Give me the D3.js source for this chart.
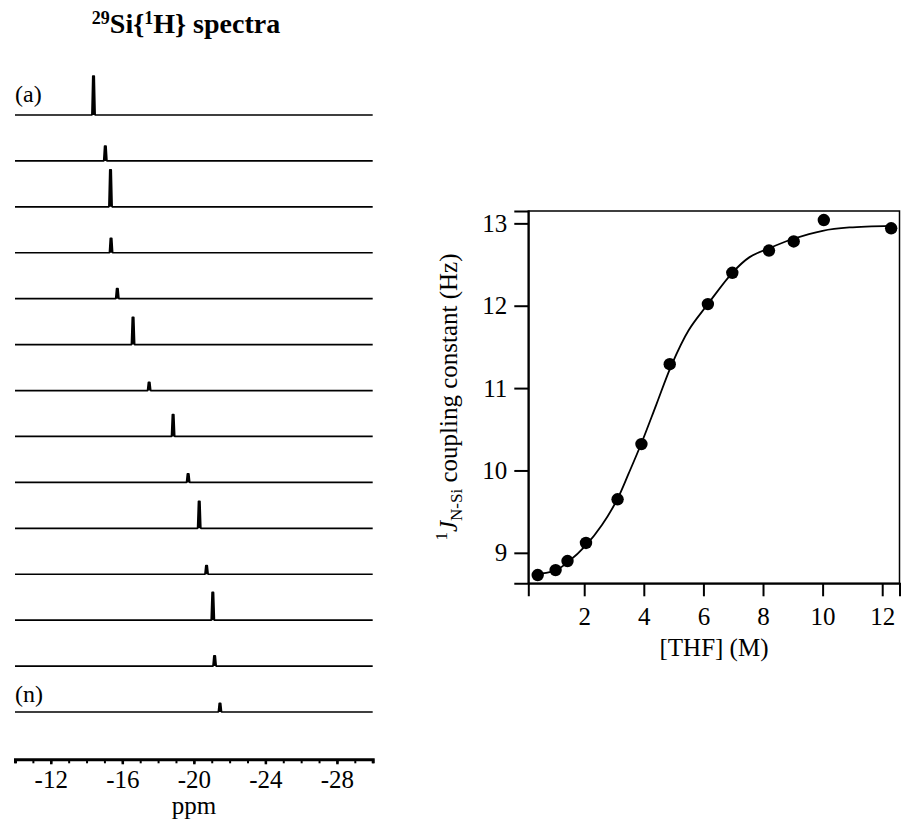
<!DOCTYPE html>
<html>
<head>
<meta charset="utf-8">
<script src="https://d3js.org/d3.v7.min.js"></script>
<style>
  body { margin: 0; background: #fff; }
  text { font-family: "Liberation Serif", "Times New Roman", serif; fill: #000; }
</style>
</head>
<body>
<div id="chart"></div>
<script>
// ---- data: 29Si{1H} spectra (a)..(n) ----
var traceIds = ["a","b","c","d","e","f","g","h","i","j","k","l","m","n"];
var peakShift = [-14.39, -15.05, -15.34, -15.37, -15.72, -16.60, -17.50,
                 -18.84, -19.68, -20.30, -20.71, -21.06, -21.16, -21.46];
var peakIntensity = [1.00, 0.38, 0.95, 0.37, 0.26, 0.70, 0.21,
                     0.56, 0.22, 0.69, 0.22, 0.71, 0.26, 0.22];
var ppmMinorTicks = d3.range(-10, -30.5, -1);
var ppmMajorTicks = [-12, -16, -20, -24, -28];

// ---- data: coupling constant vs [THF] ----
var thf  = [0.44, 1.04, 1.44, 2.06, 3.12, 3.92, 4.87, 6.15, 6.97, 8.20, 9.03, 10.04, 12.30];
var jNSi = [8.73, 8.79, 8.90, 9.12, 9.65, 10.32, 11.29, 12.02, 12.40, 12.67, 12.78, 13.04, 12.94];
// fitted curve
var fitThf = [0.30, 1.00, 1.46, 2.08, 2.60, 3.11, 3.50, 3.92, 4.42, 4.93, 5.50, 6.15, 6.97, 7.55, 8.22, 9.00, 10.00, 10.90, 12.30];
var fitJ   = [8.74, 8.78, 8.89, 9.10, 9.34, 9.65, 9.97, 10.33, 10.80, 11.28, 11.70, 12.02, 12.40, 12.59, 12.70, 12.81, 12.91, 12.95, 12.97];
var thfTicks = [2, 4, 6, 8, 10, 12];
var jTicks = [9, 10, 11, 12, 13];

var W = 901, H = 822;
var svg = d3.select("#chart").append("svg")
    .attr("width", W)
    .attr("height", H);

// ================= left panel =================
var xPpm = d3.scaleLinear().domain([-10, -30]).range([15, 372.7]);
var yTrace = d3.scalePoint().domain(traceIds).range([115, 712]);
var hPeak = d3.scaleLinear().domain([0, 1]).range([0, 39]);
var halfW = 0.09;

svg.append("text")
    .attr("x", 186).attr("y", 33)
    .attr("text-anchor", "middle")
    .attr("font-size", 28).attr("font-weight", "bold")
    .call(function(t) {
      t.append("tspan").attr("font-size", 18).attr("dy", -9).text("29");
      t.append("tspan").attr("dy", 9).text("Si{");
      t.append("tspan").attr("font-size", 18).attr("dy", -9).text("1");
      t.append("tspan").attr("dy", 9).text("H} spectra");
    });

var line = d3.line()
    .x(function(d) { return xPpm(d[0]); })
    .y(function(d) { return d[1]; });

var traces = svg.append("g").attr("id", "traces");
traceIds.forEach(function(id, i) {
  var y0 = yTrace(id), p = peakShift[i], h = hPeak(peakIntensity[i]);
  var pts = [[-10, y0], [p + halfW, y0], [p + halfW * 0.45, y0 - h],
             [p - halfW * 0.45, y0 - h], [p - halfW, y0], [-30, y0]];
  traces.append("path")
      .attr("d", line(pts))
      .attr("fill", "#000")
      .attr("stroke", "#000")
      .attr("stroke-width", 1.7)
      .attr("stroke-linejoin", "round");
});

svg.append("text").attr("x", 15).attr("y", yTrace("a") - 13)
    .attr("font-size", 24).text("(a)");
svg.append("text").attr("x", 15).attr("y", yTrace("n") - 10)
    .attr("font-size", 24).text("(n)");

var ppmAxisY = 759.3;
svg.append("g")
    .attr("transform", "translate(0," + ppmAxisY + ")")
    .call(d3.axisBottom(xPpm).tickValues(ppmMinorTicks).tickSize(4).tickFormat(""))
    .call(function(g) {
      g.select(".domain").attr("stroke-width", 3);
      g.selectAll(".tick line").attr("stroke-width", 2);
    });
svg.append("g")
    .attr("transform", "translate(0," + ppmAxisY + ")")
    .call(d3.axisBottom(xPpm).tickValues(ppmMajorTicks).tickSize(5).tickPadding(6)
      .tickFormat(function(d) { return String(d); }))
    .call(function(g) {
      g.attr("font-family", null);
      g.select(".domain").remove();
      g.selectAll(".tick line").attr("stroke-width", 2.5);
      g.selectAll("text").attr("font-size", 25);
    });
svg.append("text").attr("x", 194).attr("y", 814)
    .attr("text-anchor", "middle").attr("font-size", 25).text("ppm");

// ================= right panel =================
var x = d3.scaleLinear().domain([0.124, 12.58]).range([528.3, 899.5]);
var y = d3.scaleLinear().domain([8.63, 13.15]).range([583.3, 211]);

svg.append("rect")
    .attr("x", 528.3).attr("y", 211)
    .attr("width", 899.5 - 528.3).attr("height", 583.3 - 211)
    .attr("fill", "none").attr("stroke", "#000").attr("stroke-width", 1.5);

svg.append("g")
    .attr("transform", "translate(0,583.3)")
    .call(d3.axisBottom(x).tickValues(thfTicks).tickSize(13).tickPadding(11)
      .tickFormat(d3.format("d")))
    .call(function(g) {
      g.attr("font-family", null);
      g.select(".domain").attr("stroke-width", 2);
      g.selectAll(".tick line").attr("stroke-width", 2);
      g.selectAll("text").attr("font-size", 25);
    });
svg.append("g")
    .attr("transform", "translate(528.3,0)")
    .call(d3.axisLeft(y).tickValues(jTicks).tickSize(14).tickPadding(7)
      .tickFormat(d3.format("d")))
    .call(function(g) {
      g.attr("font-family", null);
      g.select(".domain").attr("stroke-width", 2);
      g.selectAll(".tick line").attr("stroke-width", 2);
      g.selectAll("text").attr("font-size", 25);
    });

svg.append("text")
    .attr("x", 714).attr("y", 656)
    .attr("text-anchor", "middle").attr("font-size", 25)
    .text("[THF] (M)");

svg.append("text")
    .attr("transform", "translate(457,397) rotate(-90)")
    .attr("text-anchor", "middle").attr("font-size", 25)
    .call(function(t) {
      t.append("tspan").attr("font-size", 17).attr("dy", -10).text("1");
      t.append("tspan").attr("font-style", "italic").attr("dy", 10).text("J");
      t.append("tspan").attr("font-size", 17).attr("dy", 5).text("N-Si");
      t.append("tspan").attr("dy", -5).text(" coupling constant (Hz)");
    });

var fit = d3.line()
    .x(function(d) { return x(d[0]); })
    .y(function(d) { return y(d[1]); })
    .curve(d3.curveCatmullRom.alpha(0.5));
svg.append("path")
    .attr("d", fit(d3.zip(fitThf, fitJ)))
    .attr("fill", "none").attr("stroke", "#000").attr("stroke-width", 1.8);

svg.append("g").selectAll("circle")
    .data(d3.zip(thf, jNSi))
    .enter().append("circle")
    .attr("cx", function(d) { return x(d[0]); })
    .attr("cy", function(d) { return y(d[1]); })
    .attr("r", 6.2)
    .attr("fill", "#000");
</script>
</body>
</html>
